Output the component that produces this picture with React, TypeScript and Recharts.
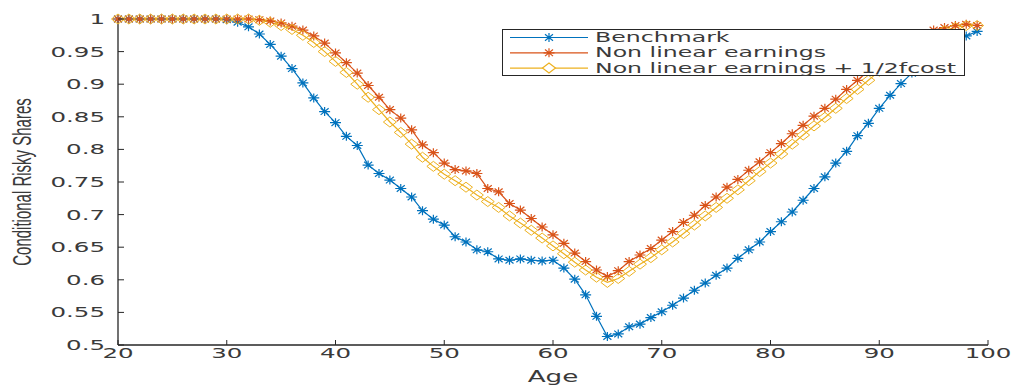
import React from 'react';
import { LineChart, Line, XAxis, YAxis, Legend, Label } from 'recharts';

const ages = [
  20, 21, 22, 23, 24, 25, 26, 27, 28, 29,
  30, 31, 32, 33, 34, 35, 36, 37, 38, 39,
  40, 41, 42, 43, 44, 45, 46, 47, 48, 49,
  50, 51, 52, 53, 54, 55, 56, 57, 58, 59,
  60, 61, 62, 63, 64, 65, 66, 67, 68, 69,
  70, 71, 72, 73, 74, 75, 76, 77, 78, 79,
  80, 81, 82, 83, 84, 85, 86, 87, 88, 89,
  90, 91, 92, 93, 94, 95, 96, 97, 98, 99,
];

const benchmark = [
  1, 1, 1, 1, 1, 1, 1, 1, 1, 1,
  0.999, 0.995, 0.988, 0.977, 0.961, 0.943, 0.924, 0.902, 0.879, 0.858,
  0.841, 0.82, 0.806, 0.776, 0.763, 0.753, 0.74, 0.727, 0.706, 0.693,
  0.684, 0.666, 0.658, 0.646, 0.643, 0.632, 0.63, 0.632, 0.63, 0.629,
  0.63, 0.618, 0.601, 0.577, 0.544, 0.513, 0.517, 0.528, 0.532, 0.542,
  0.551, 0.561, 0.572, 0.584, 0.595, 0.607, 0.618, 0.633, 0.646, 0.658,
  0.674, 0.689, 0.704, 0.722, 0.74, 0.758, 0.779, 0.797, 0.821, 0.84,
  0.863, 0.883, 0.901, 0.917, 0.932, 0.945, 0.956, 0.966, 0.974, 0.981,
];

const nonLinear = [
  1, 1, 1, 1, 1, 1, 1, 1, 1, 1,
  1, 1, 1, 0.999, 0.997, 0.994, 0.989, 0.983, 0.974, 0.963,
  0.948, 0.933, 0.917, 0.898, 0.88, 0.861, 0.848, 0.83, 0.807, 0.795,
  0.779, 0.769, 0.767, 0.763, 0.74, 0.735, 0.717, 0.707, 0.694, 0.681,
  0.669, 0.656, 0.641, 0.628, 0.615, 0.605, 0.614, 0.628, 0.638, 0.648,
  0.661, 0.674, 0.688, 0.699, 0.714, 0.727, 0.742, 0.754, 0.768, 0.781,
  0.795, 0.809, 0.824, 0.837, 0.851, 0.863, 0.877, 0.892, 0.906, 0.92,
  0.934, 0.947, 0.959, 0.969, 0.977, 0.983, 0.987, 0.99, 0.992, 0.99,
];

const nonLinearFcost = [
  1, 1, 1, 1, 1, 1, 1, 1, 1, 1,
  1, 1, 1, 0.998, 0.995, 0.99, 0.984, 0.975, 0.964, 0.95,
  0.935, 0.918, 0.9, 0.88, 0.861, 0.842, 0.826, 0.808, 0.788, 0.774,
  0.762, 0.752, 0.742, 0.73, 0.72, 0.711, 0.698, 0.687, 0.676, 0.664,
  0.652, 0.64, 0.627, 0.615, 0.604, 0.596, 0.602, 0.613, 0.624, 0.634,
  0.646, 0.658, 0.671, 0.684, 0.698, 0.711, 0.725, 0.738, 0.752, 0.766,
  0.779, 0.793, 0.808, 0.822, 0.836, 0.849, 0.863, 0.878, 0.892, 0.906,
  0.92, 0.934, 0.947, 0.958, 0.968, 0.976, 0.982, 0.987, 0.99, 0.99,
];

const xTicks = [20, 30, 40, 50, 60, 70, 80, 90, 100];
const yTicks = [0.5, 0.55, 0.6, 0.65, 0.7, 0.75, 0.8, 0.85, 0.9, 0.95, 1];

const seriesNames = ['Benchmark', 'Non linear earnings', 'Non linear earnings + 1/2fcost'];

const BLUE = '#0072BD';
const ORANGE = '#D95319';
const YELLOW = '#EDB120';
const AXIS = '#262626';
const TEXT = '#3a3a3a';
const FONT = '"DejaVu Sans", sans-serif';
const STRETCH = 1.75;

const data = ages.map((age, i) => ({
  age,
  benchmark: benchmark[i],
  nonLinear: nonLinear[i],
  nonLinearFcost: nonLinearFcost[i],
}));

const starPath = (cx: number, cy: number) => {
  const w = 5.5;
  const h = 4.5;
  const dw = 4;
  const dh = 3.3;
  return `M${cx - w},${cy}H${cx + w}M${cx},${cy - h}V${cy + h}` +
    `M${cx - dw},${cy - dh}L${cx + dw},${cy + dh}M${cx - dw},${cy + dh}L${cx + dw},${cy - dh}`;
};

const diamondPath = (cx: number, cy: number) => {
  const w = 6.5;
  const h = 5;
  return `M${cx - w},${cy}L${cx},${cy - h}L${cx + w},${cy}L${cx},${cy + h}Z`;
};

const starDot = (color: string) => (p: any) => {
  if (p.cx == null || p.cy == null) return <g key={`s-${color}-${p.index}`} />;
  return (
    <path key={`s-${color}-${p.index}`} d={starPath(p.cx, p.cy)} stroke={color} strokeWidth={1.2} fill="none" />
  );
};

const diamondDot = (p: any) => {
  if (p.cx == null || p.cy == null) return <g key={`d-${p.index}`} />;
  return <path key={`d-${p.index}`} d={diamondPath(p.cx, p.cy)} stroke={YELLOW} strokeWidth={1} fill="none" />;
};

const XTick = (props: any) => {
  const { x, y, payload } = props;
  return (
    <g>
      <line x1={x} x2={x} y1={y} y2={y - 5} stroke={AXIS} strokeWidth={1} />
      <text
        transform={`translate(${x},${y + 13}) scale(${STRETCH},1)`}
        textAnchor="middle"
        fontFamily={FONT}
        fontSize={14}
        fill={TEXT}
      >
        {payload.value}
      </text>
    </g>
  );
};

const YTick = (props: any) => {
  const { x, y, payload } = props;
  return (
    <g>
      <line x1={x + 13} x2={x + 19} y1={y} y2={y} stroke={AXIS} strokeWidth={1} />
      <text
        transform={`translate(${x},${y}) scale(${STRETCH},1)`}
        textAnchor="end"
        dominantBaseline="central"
        fontFamily={FONT}
        fontSize={14}
        fill={TEXT}
      >
        {payload.value}
      </text>
    </g>
  );
};

const legendRows = [
  { name: seriesNames[0], color: BLUE, marker: 'star' },
  { name: seriesNames[1], color: ORANGE, marker: 'star' },
  { name: seriesNames[2], color: YELLOW, marker: 'diamond' },
];

const renderLegend = () => (
  <svg width={463} height={47} style={{ display: 'block' }}>
    <rect x={0.5} y={0.5} width={462} height={46} fill="#fff" stroke={AXIS} strokeWidth={1} />
    {legendRows.map((r, i) => {
      const y = 8.5 + i * 15.3;
      return (
        <g key={r.name}>
          <line x1={8} x2={86} y1={y} y2={y} stroke={r.color} strokeWidth={1.2} />
          <path
            d={r.marker === 'star' ? starPath(47, y) : diamondPath(47, y)}
            stroke={r.color}
            strokeWidth={1.2}
            fill={r.marker === 'star' ? 'none' : '#fff'}
          />
          <text
            transform={`translate(93,${y}) scale(${STRETCH},1)`}
            dominantBaseline="central"
            fontFamily={FONT}
            fontSize={13.5}
            fill={TEXT}
          >
            {r.name}
          </text>
        </g>
      );
    })}
  </svg>
);

export default function App() {
  return (
    <div style={{ width: 1016, height: 385, background: '#fff' }}>
      <style>{'body{margin:0}'}</style>
      <LineChart width={1016} height={385} data={data} margin={{ top: 19, right: 28, bottom: 0, left: 0 }}>
        <XAxis
          dataKey="age"
          type="number"
          domain={[20, 100]}
          ticks={xTicks}
          height={40}
          tickSize={0}
          tickMargin={0}
          tickLine={false}
          tick={XTick}
          axisLine={{ stroke: AXIS, strokeWidth: 1.3 }}
          interval={0}
        >
          <Label
            content={(p: any) => {
              const vb = p.viewBox;
              return (
                <text
                  transform={`translate(${vb.x + vb.width / 2},382) scale(${STRETCH},1)`}
                  textAnchor="middle"
                  fontFamily={FONT}
                  fontSize={15}
                  fill={TEXT}
                >
                  Age
                </text>
              );
            }}
          />
        </XAxis>
        <YAxis
          type="number"
          domain={[0.5, 1]}
          ticks={yTicks}
          width={118}
          tickSize={0}
          tickMargin={13}
          tickLine={false}
          tick={YTick}
          axisLine={{ stroke: AXIS, strokeWidth: 1.3 }}
          interval={0}
        >
          <Label
            content={(p: any) => {
              const vb = p.viewBox;
              return (
                <text
                  transform={`translate(${vb.x + 22},${vb.y + vb.height / 2}) scale(1.7,1) rotate(-90)`}
                  textAnchor="middle"
                  dominantBaseline="central"
                  fontFamily='"Liberation Sans", sans-serif'
                  fontSize={15}
                  fill={TEXT}
                >
                  Conditional Risky Shares
                </text>
              );
            }}
          />
        </YAxis>
        <Legend
          layout="horizontal"
          verticalAlign="middle"
          align="center"
          content={renderLegend}
          wrapperStyle={{ position: 'absolute', top: 29, left: 502, width: 463, height: 47 }}
        />
        <Line
          dataKey="benchmark"
          name={seriesNames[0]}
          stroke={BLUE}
          strokeWidth={1.2}
          dot={starDot(BLUE)}
          isAnimationActive={false}
        />
        <Line
          dataKey="nonLinear"
          name={seriesNames[1]}
          stroke={ORANGE}
          strokeWidth={1.2}
          dot={starDot(ORANGE)}
          isAnimationActive={false}
        />
        <Line
          dataKey="nonLinearFcost"
          name={seriesNames[2]}
          stroke={YELLOW}
          strokeWidth={1.2}
          dot={diamondDot}
          isAnimationActive={false}
        />
      </LineChart>
    </div>
  );
}
